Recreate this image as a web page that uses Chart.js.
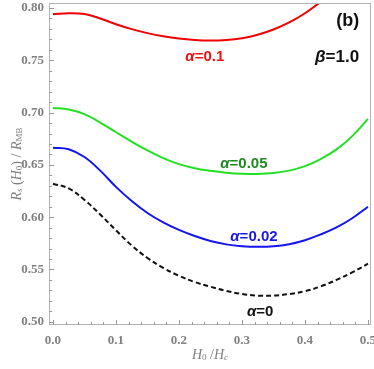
<!DOCTYPE html>
<html>
<head>
<meta charset="utf-8">
<script src="https://cdn.jsdelivr.net/npm/chart.js@4.4.1/dist/chart.umd.min.js"></script>
<style>
  html, body { margin: 0; padding: 0; background: #fff; }
</style>
</head>
<body>
<canvas id="rsChart" width="374" height="369"></canvas>
<script>
// x values: H0 / Hc
const fieldRatio = [0, 0.025, 0.05, 0.075, 0.1, 0.125, 0.15, 0.175, 0.2, 0.225, 0.25,
                    0.275, 0.3, 0.325, 0.35, 0.375, 0.4, 0.425, 0.45, 0.475, 0.5];

// Rs(H0) / R_MB for each alpha (beta = 1.0)
const rsAlpha010 = [0.7940, 0.7950, 0.7942, 0.7900, 0.7845, 0.7798, 0.7760, 0.7730, 0.7708, 0.7695, 0.7690,
                    0.7695, 0.7712, 0.7745, 0.7795, 0.7862, 0.7950, 0.8060, 0.8185, null, null];
const rsAlpha005 = [0.7045, 0.7030, 0.6985, 0.6905, 0.6812, 0.6722, 0.6638, 0.6565, 0.6507, 0.6468, 0.6443,
                    0.6425, 0.6415, 0.6413, 0.6422, 0.6445, 0.6488, 0.6555, 0.6648, 0.6775, 0.6940];
const rsAlpha002 = [0.6665, 0.6650, 0.6575, 0.6445, 0.6290, 0.6155, 0.6040, 0.5950, 0.5878, 0.5820, 0.5772,
                    0.5740, 0.5723, 0.5717, 0.5722, 0.5742, 0.5780, 0.5835, 0.5902, 0.5990, 0.6100];
const rsAlpha000 = [0.6320, 0.6275, 0.6165, 0.6025, 0.5875, 0.5730, 0.5610, 0.5515, 0.5440, 0.5380, 0.5335,
                    0.5295, 0.5265, 0.5250, 0.5250, 0.5265, 0.5292, 0.5338, 0.5400, 0.5472, 0.5555];

const xTicks = [0, 0.1, 0.2, 0.3, 0.4, 0.5];
const yTicks = [0.50, 0.55, 0.60, 0.65, 0.70, 0.75, 0.80];

const gray = '#808080';
const frameColor = '#b4b4b4';

function toPoints(ys) {
  return fieldRatio.map((x, i) => ({ x: x, y: ys[i] })).filter(p => p.y !== null);
}

// curve labels, placed in data coordinates
const curveLabels = [
  { greek: 'α', rest: '=0.1',  x: 0.241, y: 0.7531, color: '#ee1111' },
  { greek: 'α', rest: '=0.05', x: 0.303, y: 0.6508, color: '#1e8a1e' },
  { greek: 'α', rest: '=0.02', x: 0.319, y: 0.5810, color: '#1a1ae0' },
  { greek: 'α', rest: '=0',    x: 0.329, y: 0.5093, color: '#111111' },
  { greek: 'β', rest: '=1.0',  x: 0.451, y: 0.7531, color: '#111111' }
];

// draws a list of text pieces centred on (cx, cy)
function drawRich(ctx, parts, cx, cy) {
  let total = 0;
  parts.forEach(p => { ctx.font = p.font; p.w = ctx.measureText(p.t).width; total += p.w; });
  let x = cx - total / 2;
  ctx.textBaseline = 'middle';
  ctx.textAlign = 'left';
  parts.forEach(p => {
    ctx.font = p.font;
    ctx.fillText(p.t, x, cy + (p.dy || 0));
    x += p.w;
  });
}

const framePlugin = {
  id: 'framePlugin',
  afterDraw(chart) {
    const ctx = chart.ctx;
    const a = chart.chartArea;
    const xs = chart.scales.x, ys = chart.scales.y;
    ctx.save();
    ctx.strokeStyle = frameColor;
    ctx.lineWidth = 1;
    ctx.strokeRect(Math.round(a.left) + 0.5, Math.round(a.top) + 0.5,
                   Math.round(a.right - a.left) - 1, Math.round(a.bottom - a.top) - 1);

    // inward tick marks, major + minor
    ctx.strokeStyle = '#999';
    ctx.beginPath();
    for (let k = 0; k <= 30; k++) {
      const v = 0.50 + k * 0.01;
      const py = Math.round(ys.getPixelForValue(v)) + 0.5;
      const len = (k % 5 === 0) ? 5 : 3;
      ctx.moveTo(a.left, py);
      ctx.lineTo(a.left + len, py);
    }
    for (let k = 0; k <= 25; k++) {
      const v = k * 0.02;
      const px = Math.round(xs.getPixelForValue(v)) + 0.5;
      const len = (k % 5 === 0) ? 5 : 3;
      ctx.moveTo(px, a.bottom);
      ctx.lineTo(px, a.bottom - len);
    }
    ctx.stroke();

    // axis titles
    ctx.fillStyle = gray;
    const serif = '"Liberation Serif", serif';
    const big = 'italic 14px ' + serif;
    const sub = '9px ' + serif;
    const subIt = 'italic 9px ' + serif;
    const up = '14px ' + serif;

    ctx.save();
    ctx.translate(17, (a.top + a.bottom) / 2);
    ctx.rotate(-Math.PI / 2);
    drawRich(ctx, [
      { t: 'R', font: big }, { t: 's', font: subIt, dy: 3 },
      { t: ' (', font: up }, { t: 'H', font: big }, { t: '0', font: sub, dy: 3 },
      { t: ') / ', font: up }, { t: 'R', font: big }, { t: 'MB', font: sub, dy: 3 }
    ], 0, 0);
    ctx.restore();

    drawRich(ctx, [
      { t: 'H', font: big }, { t: '0', font: sub, dy: 3 },
      { t: ' /', font: up }, { t: 'H', font: big }, { t: 'c', font: subIt, dy: 3 }
    ], (a.left + a.right) / 2, 355);

    // curve labels
    const sans = '"Liberation Sans", Arial, sans-serif';
    curveLabels.forEach(l => {
      ctx.fillStyle = l.color;
      const size = l.greek === 'β' ? 17 : 15;
      drawRich(ctx, [
        { t: l.greek, font: 'italic bold ' + size + 'px ' + sans },
        { t: l.rest, font: 'bold ' + size + 'px ' + sans }
      ], xs.getPixelForValue(l.x), ys.getPixelForValue(l.y));
    });

    // panel tag
    ctx.fillStyle = '#111';
    drawRich(ctx, [{ t: '(b)', font: 'bold 18px ' + sans }], xs.getPixelForValue(0.468), ys.getPixelForValue(0.7876));
    ctx.restore();
  }
};

const tickFont = { family: '"Liberation Serif", serif', weight: 'bold', size: 13 };

// stop the scales from reserving extra room for the end tick labels
function noOverflow(s) {
  s.paddingLeft = 0; s.paddingRight = 0; s.paddingTop = 0; s.paddingBottom = 0;
}

const ctx = document.getElementById('rsChart').getContext('2d');
new Chart(ctx, {
  type: 'line',
  data: {
    datasets: [
      { label: 'α=0.1',  data: toPoints(rsAlpha010), borderColor: '#f00000' },
      { label: 'α=0.05', data: toPoints(rsAlpha005), borderColor: '#22e022' },
      { label: 'α=0.02', data: toPoints(rsAlpha002), borderColor: '#1414f0' },
      { label: 'α=0',    data: toPoints(rsAlpha000), borderColor: '#111111', borderDash: [5, 3] }
    ]
  },
  options: {
    responsive: false,
    animation: false,
    devicePixelRatio: 1,
    layout: { padding: { top: 3, right: 3, left: 0, bottom: 0 } },
    elements: {
      line: { borderWidth: 2, tension: 0.4, fill: false },
      point: { radius: 0 }
    },
    scales: {
      x: {
        type: 'linear',
        min: -0.0063,
        max: 0.5048,
        grid: { display: false, drawTicks: false },
        border: { display: false },
        afterBuildTicks: s => { s.ticks = xTicks.map(v => ({ value: v })); },
        afterFit: s => { s.height = 44; noOverflow(s); },
        ticks: {
          padding: 8,
          color: gray,
          font: tickFont,
          maxRotation: 0,
          autoSkip: false,
          callback: v => Number(v).toFixed(1)
        }
      },
      y: {
        min: 0.4969,
        max: 0.8048,
        grid: { display: false, drawTicks: false },
        border: { display: false },
        afterBuildTicks: s => { s.ticks = yTicks.map(v => ({ value: v })); },
        afterFit: s => { s.width = 49; noOverflow(s); },
        ticks: {
          padding: 5,
          color: gray,
          font: tickFont,
          autoSkip: false,
          callback: v => Number(v).toFixed(2)
        }
      }
    },
    plugins: {
      legend: { display: false },
      tooltip: { enabled: false }
    }
  },
  plugins: [framePlugin]
});
</script>
</body>
</html>
